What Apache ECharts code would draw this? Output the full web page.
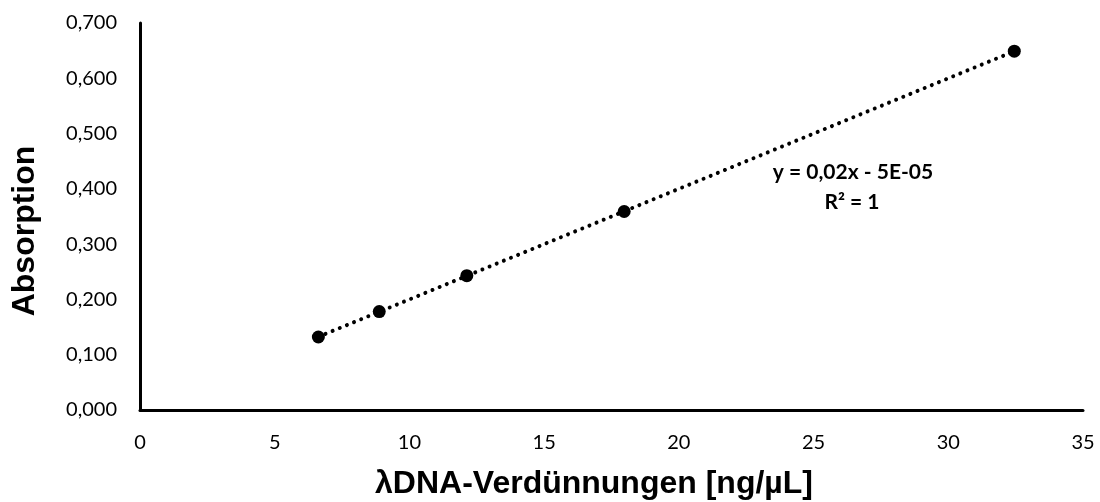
<!DOCTYPE html>
<html>
<head>
<meta charset="utf-8">
<script src="https://cdn.jsdelivr.net/npm/echarts@6/dist/echarts.min.js"></script>
<style>
html,body{margin:0;padding:0;background:#fff;}
#chart{width:1100px;height:502px;}
</style>
</head>
<body>
<div id="chart"></div>
<script>
// Data
const concentration = [6.62, 8.88, 12.13, 17.97, 32.45];   // λDNA dilutions [ng/µL]
const absorption    = [0.132, 0.178, 0.243, 0.359, 0.649];
const xAxisTitle = 'λDNA-Verdünnungen [ng/µL]';
const yAxisTitle = 'Absorption';
const equationLines = ['y = 0,02x - 5E-05', 'R² = 1'];

// Linear trend line (least squares over the read data), drawn over the data range
const n = concentration.length;
const mx = concentration.reduce((a, b) => a + b, 0) / n;
const my = absorption.reduce((a, b) => a + b, 0) / n;
let sxy = 0, sxx = 0;
for (let i = 0; i < n; i++) {
  sxy += (concentration[i] - mx) * (absorption[i] - my);
  sxx += (concentration[i] - mx) * (concentration[i] - mx);
}
const slope = sxy / sxx, intercept = my - slope * mx;
const xMin = Math.min(...concentration), xMax = Math.max(...concentration);
const trend = [[xMin, slope * xMin + intercept], [xMax, slope * xMax + intercept]];

const chart = echarts.init(document.getElementById('chart'), null, {renderer: 'canvas'});
const tickFont = {fontFamily: 'Lato', fontSize: 20, color: '#000'};
const titleFont = {fontFamily: 'Liberation Sans, Arial', fontWeight: 'bold', fontSize: 32, fill: '#000', textAlign: 'center', textVerticalAlign: 'middle'};
const eqFont = {fontFamily: 'Lato', fontWeight: 'bold', fontSize: 21, fill: '#000', textAlign: 'center', textVerticalAlign: 'middle'};
chart.setOption({
  backgroundColor: '#fff',
  animation: false,
  grid: {left: 140, right: 17, top: 23, bottom: 92},
  xAxis: {
    type: 'value', min: 0, max: 35, interval: 5,
    axisLine: {show: true, onZero: false, lineStyle: {color: '#000', width: 3}},
    axisTick: {show: false},
    splitLine: {show: false},
    axisLabel: Object.assign({margin: 23}, tickFont)
  },
  yAxis: {
    type: 'value', min: 0, max: 0.7, interval: 0.1,
    axisLine: {show: true, lineStyle: {color: '#000', width: 3}},
    axisTick: {show: false},
    splitLine: {show: false},
    axisLabel: Object.assign({margin: 23, formatter: v => v.toFixed(3).replace('.', ',')}, tickFont)
  },
  graphic: [
    {type: 'text', x: 594, y: 484, style: Object.assign({text: xAxisTitle}, titleFont)},
    {type: 'text', x: 25, y: 231, rotation: Math.PI / 2, style: Object.assign({text: yAxisTitle}, titleFont)},
    {type: 'text', x: 853, y: 172, style: Object.assign({text: equationLines[0]}, eqFont)},
    {type: 'text', x: 852, y: 202, style: Object.assign({text: equationLines[1]}, eqFont)}
  ],
  series: [
    {
      type: 'line', data: trend, symbol: 'none', silent: true, z: 1,
      lineStyle: {color: '#000', width: 4, type: [0.01, 7.7], cap: 'round'}
    },
    {
      type: 'scatter', data: concentration.map((x, i) => [x, absorption[i]]),
      symbol: 'circle', symbolSize: 13, z: 2,
      itemStyle: {color: '#000', opacity: 1}
    }
  ]
});
</script>
</body>
</html>
